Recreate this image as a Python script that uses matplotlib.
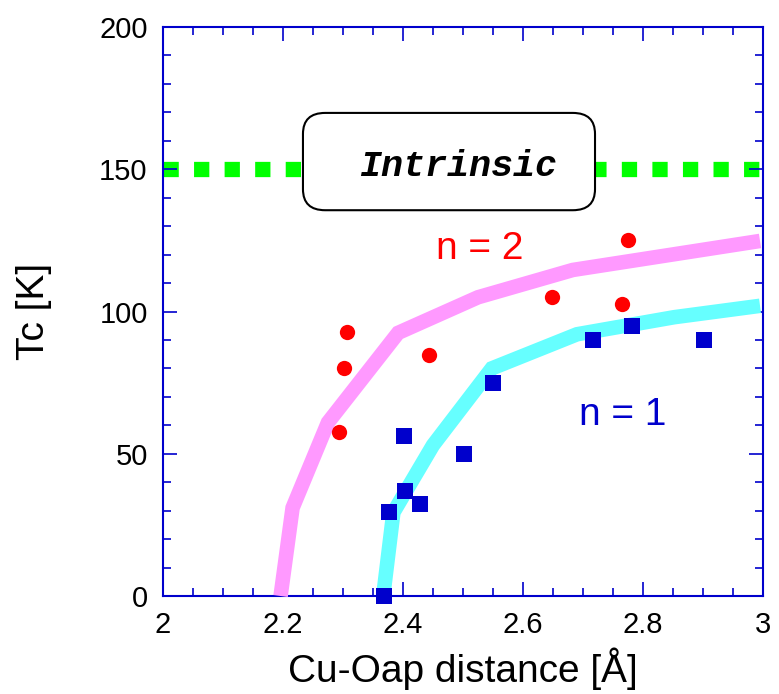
import numpy as np
import matplotlib.pyplot as plt
from matplotlib.patches import FancyBboxPatch
from matplotlib.ticker import MultipleLocator

plt.rcParams['font.family'] = ['Liberation Sans', 'DejaVu Sans']

# measured Tc vs apical distance
n2_dist = [2.293, 2.301, 2.307, 2.443, 2.648, 2.765, 2.775]
n2_tc = [57.6, 80.0, 92.9, 84.7, 105.0, 102.5, 125.0]
n1_dist = [2.368, 2.376, 2.401, 2.403, 2.428, 2.501, 2.550, 2.716, 2.782, 2.901]
n1_tc = [0.0, 29.6, 56.2, 36.8, 32.5, 49.8, 74.7, 90.1, 94.9, 90.0]

# guide curves
n2_curve_x = [2.196, 2.216, 2.275, 2.392, 2.525, 2.683, 2.995]
n2_curve_y = [0.0, 31.0, 61.0, 92.5, 105.0, 114.6, 124.8]
n1_curve_x = [2.367, 2.384, 2.450, 2.548, 2.690, 2.852, 2.995]
n1_curve_y = [0.0, 29.4, 53.0, 80.0, 92.0, 98.0, 102.0]

intrinsic_tc = 150

blue = '#0000cc'

fig = plt.figure(figsize=(7.79, 6.94), dpi=100, facecolor='w')
ax = fig.add_axes([0.2092, 0.1412, 0.7703, 0.8199])

# dotted intrinsic level
ax.plot([2, 3], [intrinsic_tc, intrinsic_tc], color='#00ff00', lw=11,
        dashes=(1.0, 1.0), solid_capstyle='butt', dash_capstyle='butt', zorder=1)

box = FancyBboxPatch((0.2333, 0.678), 0.4867, 0.171,
                     boxstyle='round,pad=0,rounding_size=0.037',
                     transform=ax.transAxes, fc='white', ec='black', lw=1.5, zorder=2)
ax.add_patch(box)
ax.text(2.492, 147.6, 'Intrinsic', ha='center', va='baseline', fontsize=26.5,
        family='Liberation Mono', weight='bold', style='italic', zorder=3)

ax.plot(n2_curve_x, n2_curve_y, color='#ff99ff', lw=10.5, solid_capstyle='butt',
        solid_joinstyle='miter', clip_on=False, zorder=3)
ax.plot(n1_curve_x, n1_curve_y, color='#66ffff', lw=10.5, solid_capstyle='butt',
        solid_joinstyle='miter', clip_on=False, zorder=3)

ax.plot(n2_dist, n2_tc, 'o', color='#ff0000', ms=11, mew=0, clip_on=False, zorder=4)
ax.plot(n1_dist, n1_tc, 's', color=blue, ms=11, mew=0, clip_on=False, zorder=4)

ax.text(2.455, 118.5, 'n = 2', color='#ff0000', fontsize=28, va='baseline')
ax.text(2.693, 60, 'n = 1', color=blue, fontsize=28, va='baseline')

ax.set_xlim(2, 3)
ax.set_ylim(0, 200)
ax.xaxis.set_minor_locator(MultipleLocator(0.05))
ax.yaxis.set_major_locator(MultipleLocator(50))
ax.yaxis.set_minor_locator(MultipleLocator(10))
ax.set_xticks([2, 2.2, 2.4, 2.6, 2.8, 3])
ax.set_xticklabels(['2', '2.2', '2.4', '2.6', '2.8', '3'])

for s in ax.spines.values():
    s.set_color(blue)
    s.set_linewidth(1.5)
ax.tick_params(which='both', direction='in', top=True, right=True, color=blue,
               labelsize=21, labelcolor='black', pad=11)
ax.tick_params(which='major', length=10, width=1.2)
ax.tick_params(which='minor', length=6, width=1.2)

ax.set_xlabel('Cu-Oap distance [Å]', fontsize=28, labelpad=6)
ax.set_ylabel('Tc [K]', fontsize=28, labelpad=34)

fig.savefig('out.png', dpi=100)
